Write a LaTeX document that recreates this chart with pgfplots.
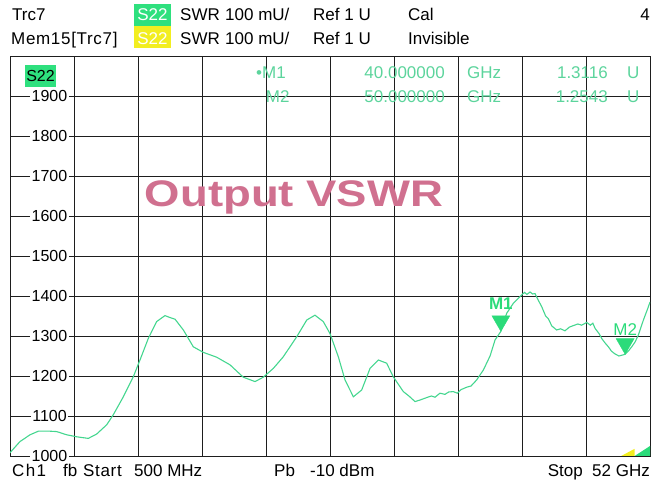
\documentclass[border=0pt]{standalone}
\usepackage{pgfplots}
\pgfplotsset{compat=1.18}
\usepackage{graphicx}
\usepackage{fontspec}
\setmainfont{Liberation Sans}
\definecolor{trace}{HTML}{44D68F}
\definecolor{mk}{HTML}{2BDB7A}
\definecolor{boxg}{HTML}{2EE07E}
\definecolor{boxy}{HTML}{F2EE20}
\definecolor{titlec}{HTML}{D0708F}
\definecolor{rd}{HTML}{5CD49C}
\definecolor{gridc}{HTML}{1E1E1E}
\newcommand{\hf}{\fontsize{17}{17}\selectfont}
\begin{document}
\begin{tikzpicture}
\useasboundingbox (0,0) rectangle (659pt,486pt);
\begin{axis}[
  at={(10pt,30pt)}, anchor=south west,
  scale only axis, width=640pt, height=400pt,
  xmin=0.5, xmax=52, ymin=1000, ymax=2000,
  xtick={0.5,5.65,10.8,15.95,21.1,26.25,31.4,36.55,41.7,46.85,52},
  xticklabels={},
  ytick={1000,1100,1200,1300,1400,1500,1600,1700,1800,1900},
  grid=major, major grid style={gridc, line width=0.9pt},
  axis line style={gridc, line width=0.9pt},
  major tick length=0pt,
  /pgf/number format/1000 sep={},
  /pgf/number format/assume math mode=true,
  yticklabel style={anchor=center, xshift=39.5pt, fill=white, inner sep=1.5pt, font=\fontsize{16}{16}\selectfont},
]
\addplot[trace, line width=1.1pt] coordinates {
(0.5,1008) (0.58,1011) (1.30,1036) (2.11,1053) (2.78,1062) (3.72,1062) (4.26,1061)
(5.06,1053) (5.87,1048) (6.80,1044) (7.48,1055) (8.28,1078) (8.81,1103) (9.62,1148)
(10.42,1198) (10.96,1240) (11.63,1294) (12.30,1336) (12.97,1351) (13.38,1346) (13.78,1342)
(14.45,1315) (15.25,1273) (16.06,1259) (17.13,1247) (18.20,1228) (19.27,1197) (20.22,1186)
(20.88,1197) (21.69,1219) (22.49,1248) (23.57,1298) (24.38,1340) (25.04,1352) (25.71,1336)
(26.25,1306) (26.92,1248) (27.46,1190) (28.13,1148) (28.80,1165) (29.47,1219) (30.14,1240)
(30.81,1232) (31.34,1198) (32.15,1161) (32.6,1150) (33.09,1136) (33.5,1140) (34.03,1146)
(34.4,1150) (34.7,1147) (35.10,1157) (35.5,1154) (35.8,1160) (36.17,1161) (36.5,1157)
(36.8,1166) (37.25,1172) (37.6,1175) (38.05,1190) (38.59,1215) (39.13,1250) (39.53,1290)
(40.0,1311.6) (40.47,1357) (41.01,1382) (41.68,1403) (41.9,1409) (42.1,1404) (42.35,1410)
(42.55,1405) (42.75,1406) (43.0,1390) (43.29,1373) (43.6,1350) (43.82,1343) (44.1,1325)
(44.49,1315) (44.8,1318) (45.16,1313) (45.5,1322) (45.83,1326) (46.2,1330) (46.5,1327)
(46.91,1334) (47.2,1327) (47.4,1332) (47.58,1319) (47.9,1306) (48.11,1294) (48.4,1282)
(48.65,1273) (48.9,1262) (49.19,1255) (49.5,1250) (49.86,1253) (50.0,1254.3) (50.25,1262)
(50.53,1273) (50.8,1285) (51.07,1303) (51.47,1340) (51.87,1373) (52.0,1385)
};
\addplot[only marks, mark=triangle*, mark size=10.4pt, color=mk,
  mark options={yshift=10.4pt, rotate=180},
  point meta=explicit symbolic, nodes near coords,
  nodes near coords style={anchor=south, inner sep=0pt, yshift=11pt, text=mk, font=\fontsize{17}{17}\selectfont\bfseries}]
  coordinates {(40,1311.6) [M1]};
\addplot[only marks, mark=triangle*, mark size=10.4pt, color=mk,
  mark options={yshift=10.4pt, rotate=180},
  point meta=explicit symbolic, nodes near coords,
  nodes near coords style={anchor=south, inner sep=0pt, yshift=8pt, text=mk, font=\fontsize{17}{17}\selectfont}]
  coordinates {(50,1254.3) [M2]};
\fill[boxy] (rel axis cs:0.955,0) -- (rel axis cs:0.976,0) -- (rel axis cs:0.976,0.018) -- cycle;
\fill[mk] (rel axis cs:0.976,0) -- (rel axis cs:1,0) -- (rel axis cs:1,0.025) -- cycle;
\end{axis}
% header
\fill[boxg] (134pt,460pt) rectangle (171pt,482pt);
\fill[boxy] (134pt,438pt) rectangle (171pt,460pt);
\node[anchor=base west, inner sep=0pt, font=\hf] at (12pt,465pt) {Trc7};
\node[anchor=base, inner sep=0pt, font=\hf, text=white] at (152.5pt,465pt) {S22};
\node[anchor=base west, inner sep=0pt, font=\hf] at (180pt,465pt) {SWR};
\node[anchor=base west, inner sep=0pt, font=\hf] at (225pt,465pt) {100 mU/};
\node[anchor=base west, inner sep=0pt, font=\hf] at (313pt,465pt) {Ref 1 U};
\node[anchor=base west, inner sep=0pt, font=\hf] at (408pt,465pt) {Cal};
\node[anchor=base east, inner sep=0pt, font=\hf] at (650pt,465pt) {4};
\node[anchor=base west, inner sep=0pt, font=\hf] at (11pt,441pt) {\addfontfeatures{LetterSpace=4}Mem15[Trc7]};
\node[anchor=base, inner sep=0pt, font=\hf, text=white] at (152.5pt,441pt) {S22};
\node[anchor=base west, inner sep=0pt, font=\hf] at (180pt,441pt) {SWR};
\node[anchor=base west, inner sep=0pt, font=\hf] at (225pt,441pt) {100 mU/};
\node[anchor=base west, inner sep=0pt, font=\hf] at (313pt,441pt) {Ref 1 U};
\node[anchor=base west, inner sep=0pt, font=\hf] at (408pt,441pt) {Invisible};
% in-plot trace label
\node[fill=boxg, inner sep=1.5pt, minimum height=22pt, font=\fontsize{16}{16}\selectfont] at (40.5pt,410pt) {S22};
% marker readout
\node[anchor=base west, inner sep=0pt, font=\hf, text=rd] at (256pt,407pt) {\textbullet M1};
\node[anchor=base east, inner sep=0pt, font=\hf, text=rd] at (445pt,407pt) {40.000000};
\node[anchor=base west, inner sep=0pt, font=\hf, text=rd] at (467pt,407pt) {GHz};
\node[anchor=base east, inner sep=0pt, font=\hf, text=rd] at (608pt,407pt) {1.3116};
\node[anchor=base west, inner sep=0pt, font=\hf, text=rd] at (627pt,407pt) {U};
\node[anchor=base west, inner sep=0pt, font=\hf, text=rd] at (265.7pt,383pt) {M2};
\node[anchor=base east, inner sep=0pt, font=\hf, text=rd] at (445pt,383pt) {50.000000};
\node[anchor=base west, inner sep=0pt, font=\hf, text=rd] at (467pt,383pt) {GHz};
\node[anchor=base east, inner sep=0pt, font=\hf, text=rd] at (608pt,383pt) {1.2543};
\node[anchor=base west, inner sep=0pt, font=\hf, text=rd] at (627pt,383pt) {U};
% title
\node[anchor=base, text=titlec, font=\fontsize{37}{37}\selectfont\bfseries, inner sep=0pt] at (294pt,279pt) {\scalebox{1.23}[1]{Output VSWR}};
% footer
\node[anchor=base west, inner sep=0pt, font=\hf] at (12pt,9pt) {\addfontfeatures{LetterSpace=8}Ch1};
\node[anchor=base west, inner sep=0pt, font=\hf] at (63pt,9pt) {fb};
\node[anchor=base west, inner sep=0pt, font=\hf] at (83pt,9pt) {\addfontfeatures{LetterSpace=4}Start};
\node[anchor=base west, inner sep=0pt, font=\hf] at (134pt,9pt) {500 MHz};
\node[anchor=base west, inner sep=0pt, font=\hf] at (274pt,9pt) {Pb};
\node[anchor=base west, inner sep=0pt, font=\hf] at (310pt,9pt) {-10 dBm};
\node[anchor=base east, inner sep=0pt, font=\hf] at (650pt,9pt) {Stop\ \ 52 GHz};
\end{tikzpicture}
\end{document}
